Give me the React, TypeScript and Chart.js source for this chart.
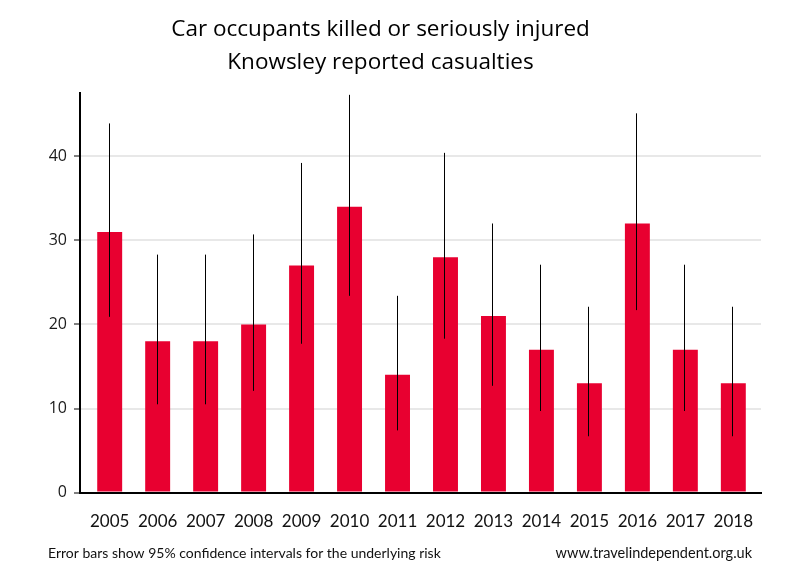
import React, { useEffect, useRef } from "react";
import { Chart, registerables } from "chart.js";

Chart.register(...registerables);

const years = [2005, 2006, 2007, 2008, 2009, 2010, 2011, 2012, 2013, 2014, 2015, 2016, 2017, 2018];
const casualties = [31, 18, 18, 20, 27, 34, 14, 28, 21, 17, 13, 32, 17, 13];
const lowerCI = [20.9, 10.5, 10.5, 12.1, 17.7, 23.4, 7.4, 18.3, 12.7, 9.7, 6.7, 21.7, 9.7, 6.7];
const upperCI = [43.9, 28.3, 28.3, 30.7, 39.2, 47.3, 23.4, 40.4, 32.0, 27.1, 22.1, 45.1, 27.1, 22.1];
const yTicks = [0, 10, 20, 30, 40];
const titleLines = ["Car occupants killed or seriously injured", "Knowsley reported casualties"];
const footLeft = "Error bars show 95% confidence intervals for the underlying risk";
const footRight = "www.travelindependent.org.uk";

const errorBars = {
  id: "errorBars",
  afterDatasetsDraw(chart: any) {
    const { ctx } = chart;
    const meta = chart.getDatasetMeta(0);
    const y = chart.scales.y;
    ctx.save();
    ctx.strokeStyle = "#000";
    ctx.lineWidth = 1;
    meta.data.forEach((bar: any, i: number) => {
      const x = Math.round(bar.x) - 0.5;
      ctx.beginPath();
      ctx.moveTo(x, y.getPixelForValue(upperCI[i]));
      ctx.lineTo(x, y.getPixelForValue(lowerCI[i]));
      ctx.stroke();
    });
    ctx.restore();
  },
};

const footer = {
  id: "footer",
  afterDraw(chart: any) {
    const { ctx } = chart;
    ctx.save();
    ctx.fillStyle = "#111";
    ctx.textBaseline = "middle";
    ctx.font = "14px Lato";
    ctx.textAlign = "left";
    ctx.fillText(footLeft, 48, 553);
    ctx.font = "14.5px Lato";
    ctx.textAlign = "right";
    ctx.fillText(footRight, 752, 553);
    ctx.restore();
  },
};

export default function App() {
  const ref = useRef<HTMLCanvasElement>(null);
  useEffect(() => {
    document.body.style.margin = "0";
    const chart = new Chart(ref.current!, {
      type: "bar",
      data: {
        datasets: [
          {
            data: years.map((yr, i) => ({ x: yr, y: casualties[i] })),
            backgroundColor: "#e80030",
            borderWidth: 0,
            barPercentage: 0.52,
            categoryPercentage: 1,
          },
        ],
      },
      options: {
        responsive: false,
        animation: false,
        devicePixelRatio: 1,
        layout: { padding: { left: 0, right: 39, top: 0, bottom: 29 } },
        plugins: {
          legend: { display: false },
          tooltip: { enabled: false },
          title: {
            display: true,
            text: titleLines,
            color: "#000",
            font: { family: "Open Sans", size: 22.5, weight: "normal", lineHeight: 1.47 },
            padding: { top: 13, bottom: 14 },
          },
        },
        scales: {
          x: {
            type: "linear",
            offset: false,
            min: 2004.381,
            max: 2018.577,
            afterBuildTicks: (axis: any) => {
              axis.ticks = years.map((v) => ({ value: v }));
            },
            ticks: {
              callback: (v: any) => String(v),
              color: "#111",
              font: { family: "Lato", size: 17 },
              padding: 19,
              autoSkip: false,
              maxRotation: 0,
            },
            grid: { display: false, drawTicks: false, offset: false },
            border: { display: true, color: "#000", width: 2 },
          },
          y: {
            min: 0,
            max: 47.5,
            afterBuildTicks: (axis: any) => {
              axis.ticks = yTicks.map((v) => ({ value: v }));
            },
            afterFit: (axis: any) => {
              axis.width = 80;
            },
            ticks: {
              color: "#1a1a1a",
              font: { family: "Open Sans", size: 16 },
              padding: 7,
            },
            grid: {
              color: "#e8e8e8",
              lineWidth: 2,
              tickColor: "#000",
              tickLength: 6,
              tickWidth: 1,
            },
            border: { display: true, color: "#000", width: 2 },
          },
        },
      },
      plugins: [errorBars, footer],
    });
    return () => chart.destroy();
  }, []);
  return (
    <div style={{ position: "fixed", left: 0, top: 0, width: 800, height: 580, background: "#fff" }}>
      <canvas ref={ref} width={800} height={580} />
    </div>
  );
}
